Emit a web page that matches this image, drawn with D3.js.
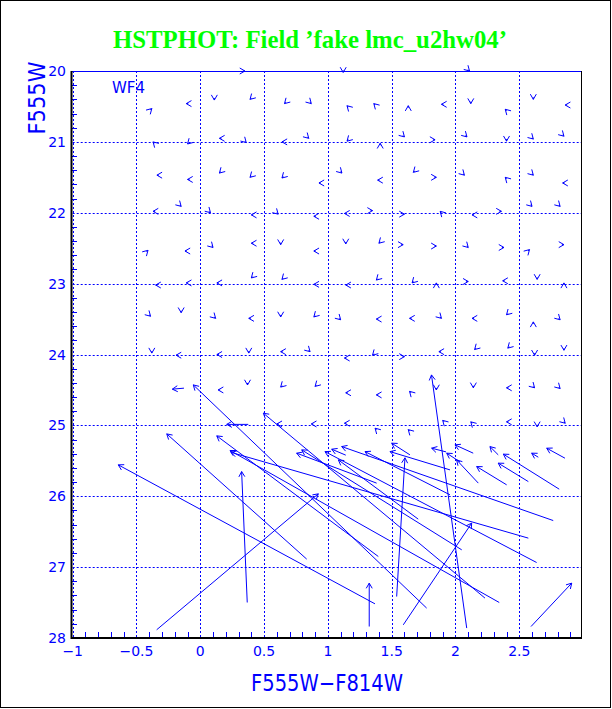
<!DOCTYPE html>
<html>
<head>
<meta charset="utf-8">
<script src="https://cdn.jsdelivr.net/npm/d3@7"></script>
<style>
  body { margin: 0; background: #fff; }
  svg { display: block; }
</style>
</head>
<body>
<div id="chart"></div>
<script>
// fake-star test, chip WF4: recovered vs input position in the CMD

var title = "HSTPHOT: Field \u2019fake lmc_u2hw04\u2019";
var xTicks = [-1, -0.5, 0, 0.5, 1, 1.5, 2, 2.5];
var yTicks = [20, 21, 22, 23, 24, 25, 26, 27, 28];

// short vectors: head position + heading (deg, 0 = right, 90 = down)
var smallX = [
  0.35, 1.12, 2.11,
  -0.38,-0.11,0.11,0.39,0.66,0.87,1.15,1.36,1.63,1.89,2.12,2.39,2.61,2.86,
  -0.37,-0.10,0.15,0.36,0.64,0.85,1.15,1.41,1.60,1.84,2.09,2.40,2.61,2.85,
  -0.34,-0.10,0.15,0.39,0.64,0.93,1.11,1.39,1.67,1.85,2.07,2.39,2.61,2.84,
  -0.37,-0.15,0.08,0.40,0.61,0.89,1.13,1.35,1.60,1.88,2.13,2.36,2.60,2.82,
  -0.41,-0.12,0.10,0.40,0.63,0.89,1.14,1.40,1.59,1.85,2.10,2.38,2.58,2.85,
  -0.35,-0.11,0.13,0.40,0.64,0.89,1.14,1.38,1.66,1.85,2.10,2.37,2.64,2.85,
  -0.39,-0.15,0.12,0.38,0.63,0.89,1.10,1.38,1.64,1.89,2.13,2.40,2.61,2.82,
  -0.38,-0.19,0.13,0.38,0.63,0.86,1.13,1.35,1.60,1.87,2.15,2.41,2.62,2.85,
  0.14,0.37,0.63,0.90,1.14,1.38,1.64,1.85,2.14,2.40,2.62,2.82,
  0.60,0.87,1.13,1.37,1.63,1.90,2.12,2.40,2.64,2.86
];
var smallY = [
  20.00,20.02,20.00,
  20.53,20.46,20.41,20.40,20.46,20.46,20.49,20.46,20.49,20.47,20.46,20.54,20.40,20.48,
  21.00,21.03,20.95,21.01,21.00,20.95,20.99,21.02,20.93,20.97,20.93,20.99,20.96,20.92,
  21.47,21.53,21.44,21.50,21.51,21.58,21.44,21.54,21.43,21.50,21.47,21.50,21.47,21.58,
  21.98,21.91,22.00,22.03,22.02,22.05,22.01,21.97,22.02,21.98,22.03,21.98,21.91,21.91,
  22.53,22.54,22.49,22.43,22.45,22.54,22.44,22.43,22.45,22.47,22.49,22.49,22.52,22.45,
  23.02,22.99,22.99,22.92,22.94,23.01,23.02,22.95,22.99,22.99,22.97,22.96,22.94,22.99,
  23.46,23.41,23.49,23.49,23.47,23.47,23.51,23.50,23.49,23.49,23.49,23.44,23.54,23.51,
  23.98,24.01,24.00,23.98,23.96,23.96,24.05,24.01,24.03,23.96,23.93,23.91,24.01,23.94,
  24.50,24.43,24.46,24.45,24.54,24.57,24.52,24.50,24.47,24.47,24.47,24.48,
  24.98,24.98,24.97,25.04,25.06,24.93,24.95,24.95,25.02,24.97
];
var smallDir = [
  0, 90, 45,
  315,180,90,135,135,45,225,225,270,180,90,225,90,180,
  225,135,180,45,180,45,135,270,45,0,45,90,45,45,
  180,180,135,135,135,180,45,180,135,0,45,225,45,180,
  180,45,45,180,45,180,180,0,0,225,180,0,45,45,
  315,180,45,180,90,180,90,135,0,0,45,0,315,0,
  180,180,180,135,135,180,180,135,135,270,0,180,90,270,
  45,90,45,180,90,135,45,180,180,45,180,135,270,45,
  90,180,180,90,180,45,180,135,0,180,135,135,90,90,
  180,90,135,135,180,180,225,90,90,180,45,45,
  180,180,180,225,225,225,225,180,90,45
];

// long vectors: tail (measured) -> head
var tailX = [1.369, 0.834, 1.395, 1.774, 2.231, 2.343, 2.571, 1.382, 1.708, 2.049, 2.636, 2.766,
             2.139, 2.179, 2.401, 2.335, 2.571, 2.813, 2.649, 2.858,
             -0.342, 0.368, 1.324, 1.539, 1.591, 2.592, 2.088,
             -0.128, 0.376, 1.140, 1.957, 1.957, 1.926, 2.035, 1.643];
var tailY = [27.518, 26.887, 26.850, 27.578, 27.437, 27.499, 26.591, 25.815, 26.323, 26.756, 26.935, 26.343,
             25.392, 25.815, 25.839, 25.416, 25.793, 25.900, 25.449, 25.463,
             27.884, 27.499, 27.838, 27.415, 27.814, 27.838, 27.860,
             24.475, 24.986, 25.420, 25.980, 25.628, 25.374, 25.515, 25.416];
var headX = [-0.643, -0.263, 0.129, -0.055, 0.494, 0.233, 0.241, 0.755, 1.082, 0.795, 0.977, 1.108,
             1.996, 2.009, 2.166, 2.270, 2.335, 2.375, 2.597, 2.715,
             0.925, 0.324, 1.324, 1.604, 2.127, 2.911, 1.812,
             -0.219, 0.207, 1.030, 1.291, 1.487, 1.813, 1.931, 1.500];
var headY = [25.557, 25.120, 25.148, 24.429, 24.828, 25.355, 25.381, 25.392, 25.487, 25.346, 25.370, 25.299,
             25.275, 25.487, 25.581, 25.299, 25.533, 25.406, 25.392, 25.322,
             25.966, 25.652, 27.226, 25.458, 26.379, 27.226, 24.288,
             24.489, 24.986, 25.336, 25.370, 25.370, 25.322, 25.392, 25.251];

var width = 612, height = 709;
var blue = "#0000ff";

var svg = d3.select("#chart")
            .append("svg")
            .attr("width", width)
            .attr("height", height);

var x = d3.scaleLinear().domain([-1, 2.99]).range([72.7, 581.8]);
var y = d3.scaleLinear().domain([20, 28]).range([71, 638]);

// outer border
svg.append("rect")
   .attr("x", 0.5).attr("y", 0.5)
   .attr("width", 610).attr("height", 707)
   .attr("fill", "none").attr("stroke", "#000");

// title
svg.append("text")
   .attr("x", 310).attr("y", 48)
   .attr("text-anchor", "middle")
   .attr("font-family", "'Liberation Serif', 'Times New Roman', serif")
   .attr("font-weight", "bold")
   .attr("font-size", 26)
   .attr("textLength", 394)
   .attr("lengthAdjust", "spacingAndGlyphs")
   .attr("fill", "#00ff00")
   .text(title);

var g = svg.append("g");

// grid, dotted at the major ticks
g.selectAll(".vgrid")
 .data(xTicks)
 .enter().append("line")
 .attr("x1", function(d) { return Math.round(x(d)) + 0.5; })
 .attr("x2", function(d) { return Math.round(x(d)) + 0.5; })
 .attr("y1", y(20)).attr("y2", y(28))
 .attr("stroke", blue).attr("stroke-dasharray", "2,2");

g.selectAll(".hgrid")
 .data(yTicks.slice(1, -1))
 .enter().append("line")
 .attr("y1", function(d) { return Math.round(y(d)) + 0.5; })
 .attr("y2", function(d) { return Math.round(y(d)) + 0.5; })
 .attr("x1", x(-1)).attr("x2", 582)
 .attr("stroke", blue).attr("stroke-dasharray", "2,2");

// minor ticks
var xMinor = d3.range(-9, 30).map(function(i) { return i / 10; })
               .filter(function(d) { return Math.abs(d * 2 - Math.round(d * 2)) > 1e-6; });
g.selectAll(".xminor")
 .data(xMinor)
 .enter().append("line")
 .attr("x1", function(d) { return Math.round(x(d)) + 0.5; })
 .attr("x2", function(d) { return Math.round(x(d)) + 0.5; })
 .attr("y1", y(28)).attr("y2", y(28) - 6)
 .attr("stroke", blue);

var yMinor = d3.range(101, 140).map(function(i) { return i / 5; })
               .filter(function(d) { return Math.abs(d - Math.round(d)) > 1e-6; });
g.selectAll(".yminor")
 .data(yMinor)
 .enter().append("line")
 .attr("y1", function(d) { return Math.round(y(d)) + 0.5; })
 .attr("y2", function(d) { return Math.round(y(d)) + 0.5; })
 .attr("x1", 72).attr("x2", 77)
 .attr("stroke", blue);

// frame
g.append("line").attr("x1", 72).attr("x2", 582).attr("y1", 71.5).attr("y2", 71.5).attr("stroke", blue);
g.append("line").attr("x1", 71.5).attr("x2", 71.5).attr("y1", 71).attr("y2", 639).attr("stroke", "#000").attr("stroke-width", 2);
g.append("line").attr("x1", 71).attr("x2", 582).attr("y1", 638).attr("y2", 638).attr("stroke", "#000").attr("stroke-width", 2);
g.append("line").attr("x1", 581.5).attr("x2", 581.5).attr("y1", 71).attr("y2", 639).attr("stroke", "#000");

// tick labels
var font = "'DejaVu Sans', 'Liberation Sans', sans-serif";
g.selectAll(".xlab")
 .data(xTicks)
 .enter().append("text")
 .attr("x", function(d) { return x(d); })
 .attr("y", 656)
 .attr("text-anchor", "middle")
 .attr("font-family", font).attr("font-size", 14)
 .attr("fill", blue)
 .text(function(d) { return d < 0 ? "\u2212" + Math.abs(d) : d; });

g.selectAll(".ylab")
 .data(yTicks)
 .enter().append("text")
 .attr("x", 66)
 .attr("y", function(d) { return y(d) + 5; })
 .attr("text-anchor", "end")
 .attr("font-family", font).attr("font-size", 14)
 .attr("fill", blue)
 .text(function(d) { return d; });

// axis titles
svg.append("text")
   .attr("x", 327).attr("y", 691)
   .attr("text-anchor", "middle")
   .attr("font-family", font).attr("font-size", 23)
   .attr("textLength", 152).attr("lengthAdjust", "spacingAndGlyphs")
   .attr("fill", blue)
   .text("F555W\u2212F814W");

svg.append("text")
   .attr("transform", "translate(45,98) rotate(-90)")
   .attr("text-anchor", "middle")
   .attr("font-family", font).attr("font-size", 23)
   .attr("textLength", 73).attr("lengthAdjust", "spacingAndGlyphs")
   .attr("fill", blue)
   .text("F555W");

svg.append("text")
   .attr("x", 112).attr("y", 93)
   .attr("font-family", font).attr("font-size", 15)
   .attr("fill", blue)
   .text("WF4");

// arrows
var barb = 6, spread = Math.PI / 6;
function headPath(hx, hy, a) {
  var b1x = hx - barb * Math.cos(a - spread), b1y = hy - barb * Math.sin(a - spread);
  var b2x = hx - barb * Math.cos(a + spread), b2y = hy - barb * Math.sin(a + spread);
  return "M" + b1x + "," + b1y + "L" + hx + "," + hy + "L" + b2x + "," + b2y;
}

var small = smallX.map(function(d, i) { return {x: d, y: smallY[i], dir: smallDir[i]}; });
g.selectAll(".small")
 .data(small)
 .enter().append("path")
 .attr("d", function(d) {
   var a = d.dir * Math.PI / 180;
   var hx = x(d.x), hy = y(d.y);
   return "M" + (hx - 2 * Math.cos(a)) + "," + (hy - 2 * Math.sin(a)) + "L" + hx + "," + hy + headPath(hx, hy, a);
 })
 .attr("fill", "none").attr("stroke", blue);

var vecs = tailX.map(function(d, i) { return {x0: d, y0: tailY[i], x1: headX[i], y1: headY[i]}; });
g.selectAll(".vec")
 .data(vecs)
 .enter().append("path")
 .attr("d", function(d) {
   var tx = x(d.x0), ty = y(d.y0), hx = x(d.x1), hy = y(d.y1);
   var a = Math.atan2(hy - ty, hx - tx);
   return "M" + tx + "," + ty + "L" + hx + "," + hy + headPath(hx, hy, a);
 })
 .attr("fill", "none").attr("stroke", blue);
</script>
</body>
</html>
